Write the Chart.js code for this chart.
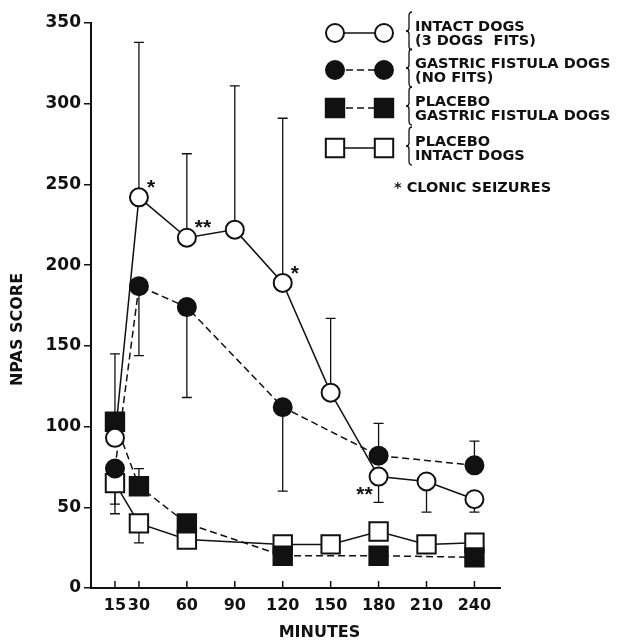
<!DOCTYPE html>
<html>
<head>
<meta charset="utf-8">
<script src="https://cdn.jsdelivr.net/npm/chart.js@4.4.1/dist/chart.umd.min.js"></script>
<style>
  body { margin: 0; background: #fff; }
  #wrap { width: 623px; height: 644px; }
</style>
</head>
<body>
<div id="wrap"><canvas id="npas-chart"></canvas></div>
<script>
// values
const minutes = [15, 30, 60, 90, 120, 150, 180, 210, 240];

const intactMinutes = [15, 30, 60, 90, 120, 150, 180, 210, 240];
const intactDogs = [93, 242, 217, 222, 189, 121, 69, 66, 55];
const intactDogsErr = [145, 338, 269, 311, 291, 167, 53, 47, 47];
const intactSeizures = ['', '*', '**', '', '*', '', '**', '', ''];

const gastricMinutes = [15, 30, 60, 120, 180, 240];
const gastricDogs = [74, 187, 174, 112, 82, 76];
const gastricDogsErr = [52, 144, 118, 60, 102, 91];

const placeboGastricMinutes = [15, 30, 60, 120, 180, 240];
const placeboGastric = [103, 63, 40, 20, 20, 19];
const placeboGastricErr = [null, 74, null, 15, null, 16];

const placeboIntactMinutes = [15, 30, 60, 120, 150, 180, 210, 240];
const placeboIntact = [65, 40, 30, 27, 27, 35, 27, 28];
const placeboIntactErr = [46, 28, 25, 30, null, 40, 31, 32];

const yTicks = [0, 50, 100, 150, 200, 250, 300, 350];

const legendRows = [
  ['INTACT DOGS', '(3 DOGS  FITS)'],
  ['GASTRIC FISTULA DOGS', '(NO FITS)'],
  ['PLACEBO', 'GASTRIC FISTULA DOGS'],
  ['PLACEBO', 'INTACT DOGS']
];
const legendNote = '* CLONIC SEIZURES';

const ink = '#111';
const boldFont = 'bold 14.5px "DejaVu Sans"';

function pts(xs, ys) {
  return xs.map((x, i) => ({ x: x, y: ys[i] }));
}

function drawMarker(ctx, ds, x, y) {
  ctx.save();
  ctx.fillStyle = ds.pointBackgroundColor;
  ctx.strokeStyle = ink;
  ctx.lineWidth = ds.pointBorderWidth;
  ctx.beginPath();
  if (ds.pointStyle === 'rect') {
    const s = Math.SQRT1_2 * ds.pointRadius;
    ctx.rect(x - s, y - s, 2 * s, 2 * s);
  } else {
    ctx.arc(x, y, ds.pointRadius, 0, Math.PI * 2);
  }
  ctx.fill();
  ctx.stroke();
  ctx.restore();
}

// vertical error bars, drawn under the markers
const errorBars = {
  id: 'errorBars',
  beforeDatasetsDraw(chart) {
    const ctx = chart.ctx;
    const yScale = chart.scales.y;
    chart.data.datasets.forEach((ds, di) => {
      const meta = chart.getDatasetMeta(di);
      (ds.errEnds || []).forEach((end, i) => {
        if (end == null) return;
        const p = meta.data[i];
        const ye = yScale.getPixelForValue(end);
        ctx.save();
        ctx.strokeStyle = ink;
        ctx.lineWidth = 1.3;
        ctx.beginPath();
        ctx.moveTo(p.x, p.y);
        ctx.lineTo(p.x, ye);
        ctx.moveTo(p.x - 5, ye);
        ctx.lineTo(p.x + 5, ye);
        ctx.stroke();
        ctx.restore();
      });
    });
  }
};

// asterisks next to the intact dogs points
const seizureMarks = {
  id: 'seizureMarks',
  afterDatasetsDraw(chart, args, opts) {
    const ctx = chart.ctx;
    const meta = chart.getDatasetMeta(0);
    ctx.save();
    ctx.fillStyle = ink;
    ctx.font = 'bold 21px "Liberation Sans"';
    ctx.textBaseline = 'middle';
    intactSeizures.forEach((s, i) => {
      if (!s) return;
      const p = meta.data[i];
      if (opts.place[i] === 'sw') {
        ctx.textAlign = 'right';
        ctx.fillText(s, p.x - 6, p.y + 19);
      } else {
        ctx.textAlign = 'left';
        ctx.fillText(s, p.x + 8, p.y - 9);
      }
    });
    ctx.restore();
  }
};

// inward tick marks on the x axis
const xTickMarks = {
  id: 'xTickMarks',
  afterDraw(chart) {
    const ctx = chart.ctx;
    const xs = chart.scales.x;
    const bottom = chart.chartArea.bottom;
    ctx.save();
    ctx.strokeStyle = ink;
    ctx.lineWidth = 1.5;
    ctx.beginPath();
    minutes.forEach(m => {
      const x = xs.getPixelForValue(m);
      ctx.moveTo(x, bottom);
      ctx.lineTo(x, bottom - 7);
    });
    ctx.stroke();
    ctx.restore();
  }
};

// axis titles
const axisTitles = {
  id: 'axisTitles',
  afterDraw(chart) {
    const ctx = chart.ctx;
    const a = chart.chartArea;
    ctx.save();
    ctx.fillStyle = ink;
    ctx.font = 'bold 16px "DejaVu Sans"';
    ctx.textAlign = 'center';
    ctx.textBaseline = 'middle';
    ctx.fillText('MINUTES', (a.left + a.right) / 2 + 24, a.bottom + 45);
    ctx.translate(18, (a.top + a.bottom) / 2 + 24);
    ctx.rotate(-Math.PI / 2);
    ctx.fillText('NPAS SCORE', 0, 0);
    ctx.restore();
  }
};

// legend box top right
const keyBox = {
  id: 'keyBox',
  afterDraw(chart) {
    const ctx = chart.ctx;
    const rowY = [33, 70, 108, 148];
    const x1 = 335, x2 = 384, bx = 409, tx = 415;
    ctx.save();
    chart.data.datasets.forEach((ds, i) => {
      const y = rowY[i];
      ctx.strokeStyle = ink;
      ctx.lineWidth = 1.5;
      ctx.setLineDash(ds.borderDash || []);
      ctx.beginPath();
      ctx.moveTo(x1, y);
      ctx.lineTo(x2, y);
      ctx.stroke();
      ctx.setLineDash([]);
      drawMarker(ctx, ds, x1, y);
      drawMarker(ctx, ds, x2, y);

      // brace
      const t = y - 21, b = y + 17, m = (t + b) / 2;
      ctx.lineWidth = 1.3;
      ctx.beginPath();
      ctx.moveTo(bx + 3, t);
      ctx.quadraticCurveTo(bx, t, bx, t + 4);
      ctx.lineTo(bx, m - 3);
      ctx.quadraticCurveTo(bx, m, bx - 3, m);
      ctx.quadraticCurveTo(bx, m, bx, m + 3);
      ctx.lineTo(bx, b - 4);
      ctx.quadraticCurveTo(bx, b, bx + 3, b);
      ctx.stroke();

      ctx.fillStyle = ink;
      ctx.font = boldFont;
      ctx.textAlign = 'left';
      ctx.textBaseline = 'middle';
      ctx.fillText(legendRows[i][0], tx, y - 6);
      ctx.fillText(legendRows[i][1], tx, y + 8);
    });
    ctx.fillText(legendNote, 394, 188);
    ctx.restore();
  }
};

const ctx = document.getElementById('npas-chart').getContext('2d');

const chart = new Chart(ctx, {
  type: 'line',
  data: {
    datasets: [{
      label: 'Intact dogs',
      data: pts(intactMinutes, intactDogs),
      errEnds: intactDogsErr,
      borderColor: ink,
      borderWidth: 1.5,
      pointStyle: 'circle',
      pointRadius: 9,
      pointBorderWidth: 2,
      pointBorderColor: ink,
      pointBackgroundColor: '#fff'
    }, {
      label: 'Gastric fistula dogs',
      data: pts(gastricMinutes, gastricDogs),
      errEnds: gastricDogsErr,
      borderColor: ink,
      borderWidth: 1.5,
      borderDash: [7, 4],
      pointStyle: 'circle',
      pointRadius: 9,
      pointBorderWidth: 2,
      pointBorderColor: ink,
      pointBackgroundColor: ink
    }, {
      label: 'Placebo gastric fistula dogs',
      data: pts(placeboGastricMinutes, placeboGastric),
      errEnds: placeboGastricErr,
      borderColor: ink,
      borderWidth: 1.5,
      borderDash: [7, 4],
      pointStyle: 'rect',
      pointRadius: 13,
      pointBorderWidth: 2,
      pointBorderColor: ink,
      pointBackgroundColor: ink
    }, {
      label: 'Placebo intact dogs',
      data: pts(placeboIntactMinutes, placeboIntact),
      errEnds: placeboIntactErr,
      borderColor: ink,
      borderWidth: 1.5,
      pointStyle: 'rect',
      pointRadius: 13,
      pointBorderWidth: 2,
      pointBorderColor: ink,
      pointBackgroundColor: '#fff'
    }]
  },
  options: {
    responsive: true,
    maintainAspectRatio: false,
    animation: false,
    events: [],
    layout: {
      padding: { left: 0, right: 123, top: 23, bottom: 0 }
    },
    elements: {
      line: { tension: 0 }
    },
    plugins: {
      legend: { display: false },
      tooltip: { enabled: false },
      seizureMarks: { place: ['', 'ne', 'ne', '', 'ne', '', 'sw', '', ''] }
    },
    scales: {
      x: {
        type: 'linear',
        min: 0,
        max: 256,
        afterBuildTicks: s => { s.ticks = minutes.map(v => ({ value: v })); },
        afterFit: s => { s.height = 56; },
        grid: { display: false, drawTicks: false },
        border: { display: true, color: ink, width: 2 },
        ticks: {
          color: ink,
          font: { family: 'DejaVu Sans', weight: 'bold', size: 16 },
          padding: 8,
          autoSkip: false,
          maxRotation: 0
        }
      },
      y: {
        min: 0,
        max: 350,
        afterBuildTicks: s => { s.ticks = yTicks.map(v => ({ value: v })); },
        afterFit: s => { s.width = 91; },
        grid: { drawOnChartArea: false, drawTicks: true, tickLength: 7, color: ink, lineWidth: 1.5 },
        border: { display: true, color: ink, width: 2 },
        ticks: {
          color: ink,
          font: { family: 'DejaVu Sans', weight: 'bold', size: 17 },
          padding: 3
        }
      }
    }
  },
  plugins: [errorBars, seizureMarks, xTickMarks, axisTitles, keyBox]
});
</script>
</body>
</html>
